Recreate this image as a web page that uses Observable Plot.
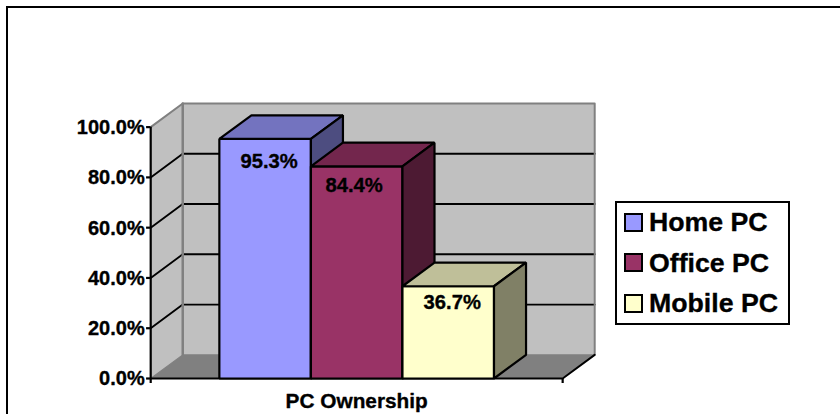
<!DOCTYPE html>
<html>
<head>
<meta charset="utf-8">
<script src="https://cdn.jsdelivr.net/npm/d3@7"></script>
<script src="https://cdn.jsdelivr.net/npm/@observablehq/plot@0.6"></script>
<style>
  html, body { margin: 0; padding: 0; background: #fff; }
  #chart { position: relative; width: 840px; height: 414px; overflow: hidden; font-family: "Liberation Sans", Arial, sans-serif; font-weight: bold; color: #000; }
  #chart svg { position: absolute; left: 0; top: 0; }
  #frame { position: absolute; left: 6px; top: 6px; width: 860px; height: 440px; border: 2px solid #000; }
  #legend { position: absolute; left: 615px; top: 201px; width: 171px; height: 120px; border: 2px solid #000; background: #fff; }
  #legend .row { position: absolute; left: 7px; height: 20px; display: flex; align-items: center; font-size: 26.7px; line-height: 20px; white-space: nowrap; -webkit-text-stroke: 0.35px #000; }
  #legend .swatch { width: 15px; height: 15px; border: 2px solid #000; margin-right: 6px; flex: none; }
</style>
</head>
<body>
<div id="chart"><div id="frame"></div></div>
<script>
// Survey results for PC ownership, one box per PC type.
const seriesNames = ["Home PC", "Office PC", "Mobile PC"];
const ownership = [95.3, 84.4, 36.7];
const axisTicks = [0, 20, 40, 60, 80, 100];
const categoryLabel = "PC Ownership";

const frontFill = ["#9999ff", "#993366", "#ffffcc"];
const topFill = ["#7373bf", "#73264d", "#bfbf99"];
const sideFill = ["#4d4d80", "#4d1a33", "#808066"];

// Oblique depth of the box, in scale units (bar widths and percent points).
const depthX = 0.35;
const depthY = 9.4;
const xStart = -0.75;
const xEnd = 3.75;

// Polygon vertices live in scale units; Plot maps them through x and y.
const polygon = (id, fill, pts) => pts.map(([x, y]) => ({id, fill, x, y}));

const boxes = ownership.flatMap((v, i) => [
  polygon(`front-${i}`, frontFill[i], [[i, 0], [i + 1, 0], [i + 1, v], [i, v]]),
  polygon(`top-${i}`, topFill[i], [[i, v], [i + 1, v], [i + 1 + depthX, v + depthY], [i + depthX, v + depthY]]),
  polygon(`side-${i}`, sideFill[i], [[i + 1, 0], [i + 1 + depthX, depthY], [i + 1 + depthX, v + depthY], [i + 1, v]])
]).flat();

const walls = [
  polygon("left", "#c0c0c0", [[xStart, 0], [xStart + depthX, depthY], [xStart + depthX, 100 + depthY], [xStart, 100]]),
  polygon("back", "#c0c0c0", [[xStart + depthX, depthY], [xEnd + depthX, depthY], [xEnd + depthX, 100 + depthY], [xStart + depthX, 100 + depthY]]),
  polygon("floor", "#808080", [[xStart, 0], [xEnd, 0], [xEnd + depthX, depthY], [xStart + depthX, depthY]])
].flat();

const innerTicks = axisTicks.filter(t => t > 0 && t < 100);
const gridSide = innerTicks.flatMap(t => [{t, x: xStart, y: t}, {t, x: xStart + depthX, y: t + depthY}]);
const gridBack = innerTicks.flatMap(t => [{t, x: xStart + depthX, y: t + depthY}, {t, x: xEnd + depthX, y: t + depthY}]);
const wallEdges = [
  {x: xStart, y: 100}, {x: xStart + depthX, y: 100 + depthY}, {x: xEnd + depthX, y: 100 + depthY}, {x: xEnd + depthX, y: depthY}
];
const wallFold = [{x: xStart + depthX, y: 100 + depthY}, {x: xStart + depthX, y: depthY}];
const floorEdge = [{x: xEnd, y: 0}, {x: xEnd + depthX, y: depthY}];
const floorLeftEdge = [{x: xStart, y: 0}, {x: xStart + depthX, y: depthY}, {x: xEnd + depthX, y: depthY}];

const labelNudge = [[4, 29], [-2.5, 25.5], [4, 22.5]];
const textInk = {fill: "#000", stroke: "#000", strokeWidth: 0.35};

const chart = Plot.plot({
  width: 840,
  height: 414,
  marginLeft: 150.2,
  marginRight: 245.8,
  marginTop: 103,
  marginBottom: 36,
  style: {background: "transparent", fontFamily: "'Liberation Sans', Arial, sans-serif", fontWeight: "bold", color: "#000", overflow: "visible"},
  x: {type: "linear", domain: [xStart, xEnd + depthX], axis: null},
  y: {type: "linear", domain: [0, 100 + depthY], axis: null},
  color: {type: "identity"},
  marks: [
    Plot.line(walls, {x: "x", y: "y", z: "id", fill: "fill", stroke: "none", curve: "linear-closed"}),
    Plot.line(gridSide, {x: "x", y: "y", z: "t", stroke: "#000", strokeWidth: 1.9}),
    Plot.line(gridBack, {x: "x", y: "y", z: "t", stroke: "#000", strokeWidth: 1.9}),
    Plot.line(wallEdges, {x: "x", y: "y", stroke: "#808080", strokeWidth: 2}),
    Plot.line(wallFold, {x: "x", y: "y", stroke: "#808080", strokeWidth: 2.5}),
    Plot.line(floorLeftEdge, {x: "x", y: "y", stroke: "#808080", strokeWidth: 1.2}),
    Plot.line(floorEdge, {x: "x", y: "y", stroke: "#000", strokeWidth: 1.9}),
    Plot.ruleX([xStart], {y1: 0, y2: 100, stroke: "#000", strokeWidth: 2.2}),
    Plot.ruleY([0], {x1: xStart, x2: xEnd, stroke: "#000", strokeWidth: 2.2}),
    Plot.ruleY(axisTicks, {x1: xStart - 0.045, x2: xStart, stroke: "#000", strokeWidth: 2.2}),
    Plot.line(boxes, {x: "x", y: "y", z: "id", fill: "fill", stroke: "#000", strokeWidth: 2.2, strokeLinejoin: "miter", curve: "linear-closed"}),
    Plot.text(axisTicks, {x: xStart, y: d => d, text: d => d.toFixed(1) + "%", textAnchor: "end", dx: -6, dy: 0.5, fontSize: 20, ...textInk}),
    Plot.text([categoryLabel], {x: (xStart + xEnd) / 2, y: 0, text: d => d, dy: 23, fontSize: 20.8, ...textInk}),
    Plot.ruleX([xStart, xEnd], {y1: -2, y2: 0, stroke: "#000", strokeWidth: 2.2}),
    ...ownership.map((v, i) => Plot.text([v], {
      x: i + 0.5,
      y: d => d,
      text: d => d.toFixed(1) + "%",
      dx: labelNudge[i][0],
      dy: labelNudge[i][1] - 6,
      fontSize: 20.2,
      ...textInk
    }))
  ]
});
const host = document.getElementById("chart");
host.insertBefore(chart, host.firstChild);

// Key box sits over the right side of the frame.
const legend = document.createElement("div");
legend.id = "legend";
seriesNames.forEach((name, i) => {
  const row = document.createElement("div");
  row.className = "row";
  row.style.top = (9 + i * 40.5) + "px";
  const swatch = document.createElement("span");
  swatch.className = "swatch";
  swatch.style.background = frontFill[i];
  row.append(swatch, name);
  legend.append(row);
});
host.append(legend);
</script>
</body>
</html>
